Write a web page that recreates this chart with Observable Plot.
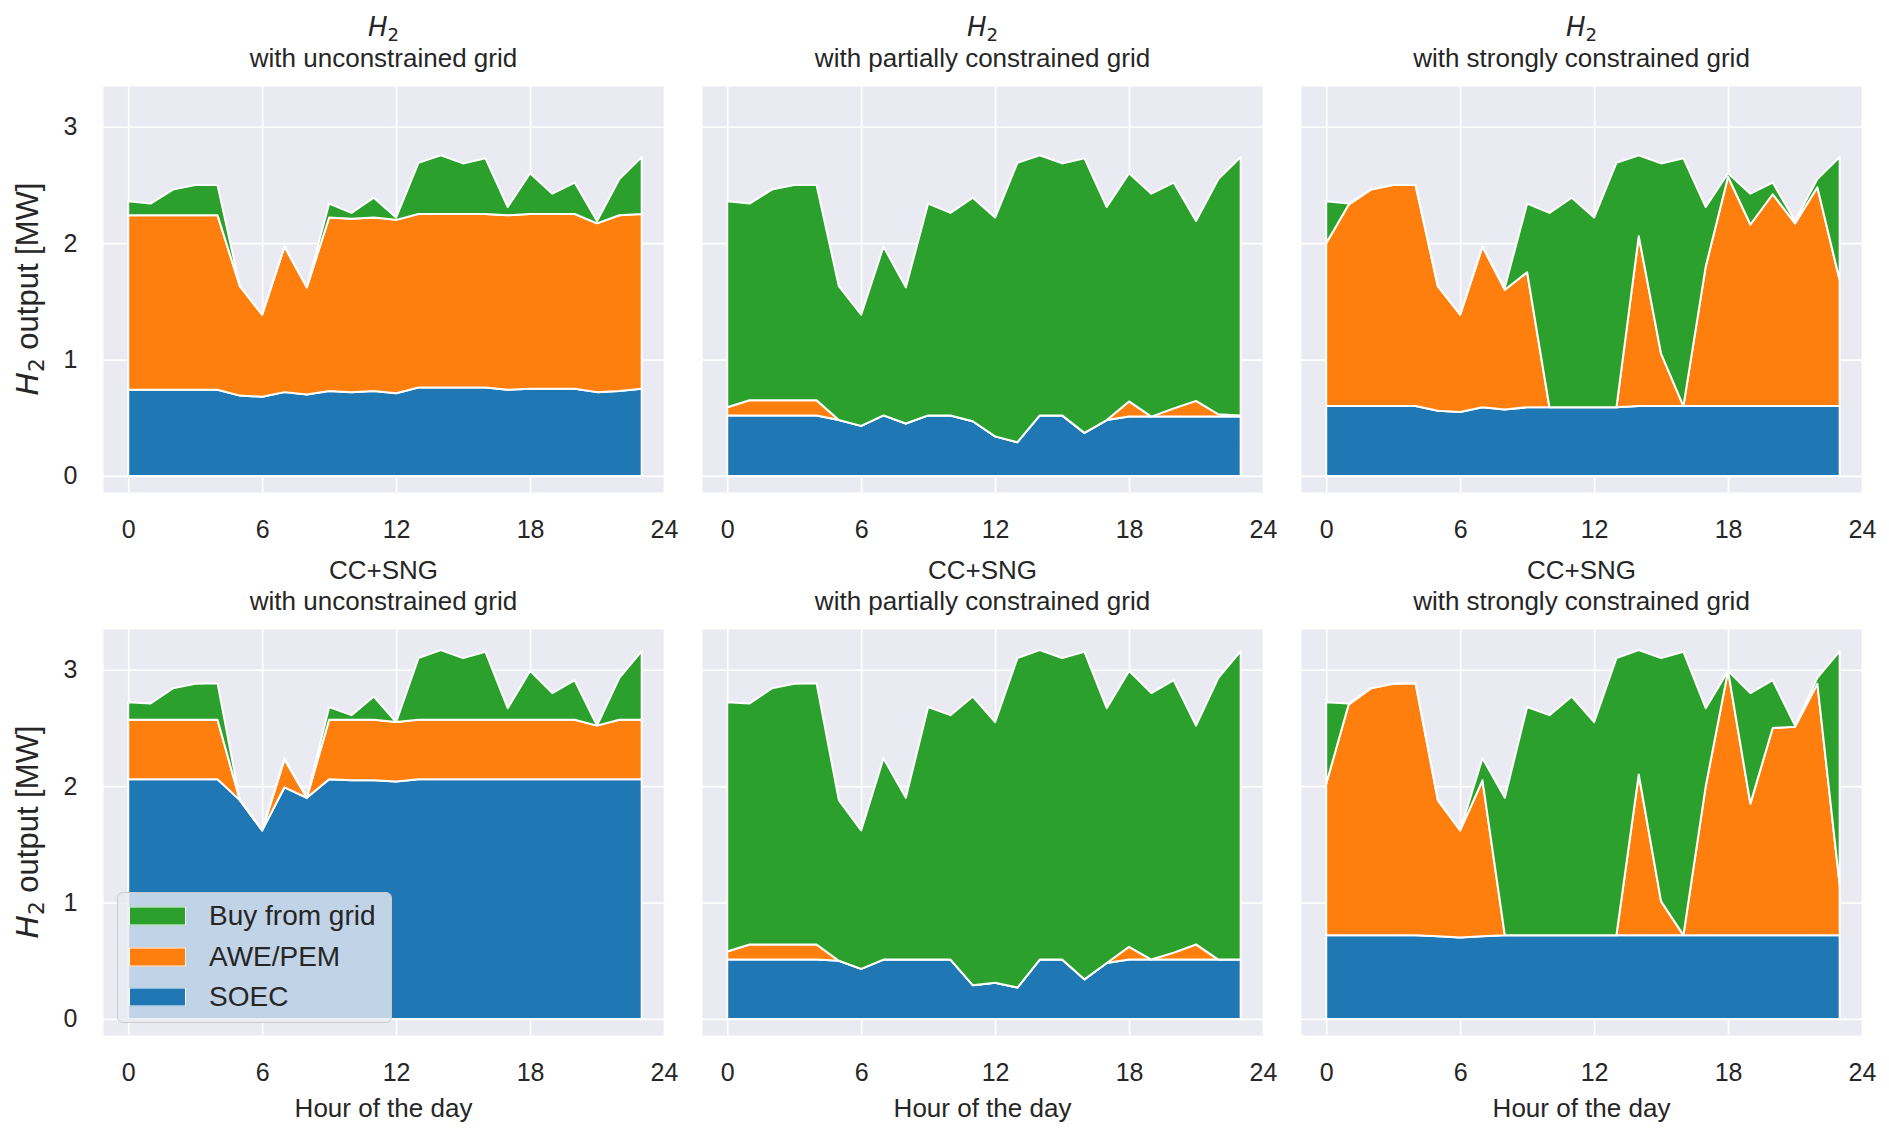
<!DOCTYPE html>
<html>
<head>
<meta charset="utf-8">
<script src="https://cdn.jsdelivr.net/npm/d3@7"></script>
<script src="https://cdn.jsdelivr.net/npm/@observablehq/plot@0.6"></script>
<style>
  body { margin: 0; background: #ffffff; }
  #fig { position: relative; width: 1889px; height: 1133px; font-family: "Liberation Sans", Arial, sans-serif; color: #262626; overflow: hidden; }
  .panel { position: absolute; }
  .panel svg { max-width: none !important; }
  .title { position: absolute; transform: translate(-50%, -50%); font-size: 26px; white-space: nowrap; line-height: 1; }
  .xlabel { position: absolute; transform: translate(-50%, -50%); font-size: 26px; white-space: nowrap; line-height: 1; }
  .ylabel { position: absolute; transform: translate(-50%, -50%) rotate(-90deg); font-size: 31px; white-space: nowrap; line-height: 1; }
  .m { font-family: "DejaVu Sans", sans-serif; font-style: italic; }
  .s { font-family: "DejaVu Sans", sans-serif; font-size: 0.7em; position: relative; top: 0.28em; }
  .legend { position: absolute; background: rgba(234,234,242,0.8); border: 1.5px solid #cccccc; border-radius: 6px; box-sizing: border-box; }
  .row { position: absolute; left: 0; height: 0; }
  .sw { position: absolute; width: 57px; height: 19px; box-sizing: border-box; border: 1.5px solid #ffffff; transform: translateY(-50%); }
  .lt { position: absolute; font-size: 28px; white-space: nowrap; transform: translateY(-50%); line-height: 1; }
</style>
</head>
<body>
<div id="fig"></div>
<script>
// ---------------- data ----------------
const hours = [0,1,2,3,4,5,6,7,8,9,10,11,12,13,14,15,16,17,18,19,20,21,22,23];
const seriesNames = ["SOEC", "AWE/PEM", "Buy from grid"];
const seriesColors = ["#1f77b4", "#ff7f0e", "#2ca02c"];
const xTicks = [0, 6, 12, 18, 24];
const yTicks = [0, 1, 2, 3];
const rowProducts = ["H2", "CC+SNG"];
const gridCases = ["with unconstrained grid", "with partially constrained grid", "with strongly constrained grid"];
const xLabel = "Hour of the day";
const yLabel = "output [MW]";

// H2 – unconstrained grid
const h2UnconSOEC = [0.74,0.74,0.74,0.74,0.74,0.69,0.68,0.72,0.70,0.73,0.72,0.73,0.71,0.76,0.76,0.76,0.76,0.74,0.75,0.75,0.75,0.72,0.73,0.75];
const h2UnconAWE  = [1.50,1.50,1.50,1.50,1.50,0.94,0.705,1.25,0.92,1.49,1.49,1.49,1.49,1.49,1.49,1.49,1.49,1.50,1.50,1.50,1.50,1.45,1.51,1.50];
const h2UnconBuy  = [0.12,0.10,0.22,0.26,0.26,0,0,0,0,0.12,0.05,0.17,0.02,0.44,0.505,0.435,0.48,0.07,0.35,0.175,0.27,0.02,0.31,0.49];

// H2 – partially constrained grid
const h2PartSOEC = [0.52,0.52,0.52,0.52,0.52,0.48,0.43,0.52,0.45,0.52,0.52,0.47,0.34,0.29,0.52,0.52,0.37,0.48,0.51,0.51,0.51,0.51,0.51,0.51];
const h2PartAWE  = [0.07,0.13,0.13,0.13,0.13,0,0,0,0,0,0,0,0,0,0,0,0,0,0.13,0,0.07,0.135,0.02,0.01];
const h2PartBuy  = [1.77,1.69,1.81,1.85,1.85,1.15,0.955,1.45,1.17,1.82,1.74,1.92,1.88,2.40,2.235,2.165,2.36,1.83,1.96,1.915,1.94,1.545,2.02,2.22];

// H2 – strongly constrained grid
const h2StrongSOEC = [0.60,0.60,0.60,0.60,0.60,0.56,0.55,0.59,0.57,0.59,0.59,0.59,0.59,0.59,0.60,0.60,0.60,0.60,0.60,0.60,0.60,0.60,0.60,0.60];
const h2StrongAWE  = [1.40,1.73,1.86,1.90,1.90,1.07,0.835,1.38,1.03,1.16,0,0,0,0,1.46,0.45,0,1.20,1.97,1.56,1.82,1.57,1.88,1.08];
const h2StrongBuy  = [0.36,0.01,0,0,0,0,0,0,0.02,0.59,1.67,1.80,1.63,2.10,0.695,1.635,2.13,0.51,0.03,0.265,0.10,0.02,0.07,1.06];

// CC+SNG – unconstrained grid
const ccUnconSOEC = [2.06,2.06,2.06,2.06,2.06,1.88,1.62,1.99,1.90,2.06,2.05,2.05,2.04,2.06,2.06,2.06,2.06,2.06,2.06,2.06,2.06,2.06,2.06,2.06];
const ccUnconAWE  = [0.51,0.51,0.51,0.51,0.51,0,0,0.24,0,0.51,0.52,0.52,0.51,0.51,0.51,0.51,0.51,0.51,0.51,0.51,0.51,0.46,0.51,0.51];
const ccUnconBuy  = [0.15,0.14,0.27,0.31,0.315,0,0,0.01,0,0.11,0.04,0.20,0,0.53,0.60,0.53,0.585,0.10,0.42,0.23,0.34,0,0.36,0.59];

// CC+SNG – partially constrained grid
const ccPartSOEC = [0.51,0.51,0.51,0.51,0.51,0.50,0.43,0.51,0.51,0.51,0.51,0.29,0.31,0.27,0.51,0.51,0.34,0.48,0.51,0.51,0.51,0.51,0.51,0.51];
const ccPartAWE  = [0.07,0.13,0.13,0.13,0.13,0,0,0,0,0,0,0,0,0,0,0,0,0,0.11,0,0.06,0.13,0,0];
const ccPartBuy  = [2.14,2.07,2.20,2.24,2.245,1.38,1.19,1.73,1.39,2.17,2.10,2.48,2.24,2.83,2.66,2.59,2.815,2.19,2.37,2.29,2.34,1.88,2.42,2.65];

// CC+SNG – strongly constrained grid
const ccStrongSOEC = [0.72,0.72,0.72,0.72,0.72,0.71,0.70,0.71,0.72,0.72,0.72,0.72,0.72,0.72,0.72,0.72,0.72,0.72,0.72,0.72,0.72,0.72,0.72,0.72];
const ccStrongAWE  = [1.30,1.98,2.12,2.16,2.165,1.17,0.92,1.34,0,0,0,0,0,0,1.38,0.29,0,1.28,2.27,1.13,1.78,1.79,2.16,0.43];
const ccStrongBuy  = [0.70,0.01,0,0,0,0,0,0.19,1.18,1.96,1.89,2.05,1.83,2.38,1.07,2.09,2.435,0.67,0,0.95,0.41,0.01,0.05,2.01];

const panelSeries = [
  [[h2UnconSOEC, h2UnconAWE, h2UnconBuy], [h2PartSOEC, h2PartAWE, h2PartBuy], [h2StrongSOEC, h2StrongAWE, h2StrongBuy]],
  [[ccUnconSOEC, ccUnconAWE, ccUnconBuy], [ccPartSOEC, ccPartAWE, ccPartBuy], [ccStrongSOEC, ccStrongAWE, ccStrongBuy]]
];

// ---------------- layout ----------------
const fig = document.getElementById("fig");
const plotW = 561, plotH = 406;
const colLeft = [103, 702, 1301];
const rowTop = [86, 629];
const FONT = "'Liberation Sans', Arial, sans-serif";

function makePanel(r, c) {
  const arrs = panelSeries[r][c];
  const data = [];
  seriesNames.forEach((name, k) => {
    hours.forEach((h, i) => data.push({hour: h, series: name, value: arrs[k][i]}));
  });
  const showY = c === 0;
  const ml = showY ? 110 : 0;
  const mr = 26, mb = 70;
  const marks = [
    Plot.frame({fill: "#EAEAF2", stroke: "none"}),
    Plot.gridX(xTicks, {stroke: "#ffffff", strokeOpacity: 1, strokeWidth: 1.7}),
    Plot.gridY(yTicks, {stroke: "#ffffff", strokeOpacity: 1, strokeWidth: 1.7}),
    Plot.areaY(data, {x: "hour", y: "value", z: "series", fill: "series", order: seriesNames,
                      stroke: "#ffffff", strokeWidth: 2, strokeLinejoin: "round"}),
    Plot.axisX(xTicks, {tickSize: 0, tickPadding: 28, fontSize: 25, label: null, fill: "#262626", tickFormat: d3.format("d")})
  ];
  if (showY) marks.push(Plot.axisY(yTicks, {tickSize: 0, tickPadding: 26, fontSize: 25, label: null, fill: "#262626", tickFormat: d3.format("d")}));
  const svg = Plot.plot({
    width: ml + plotW + mr,
    height: plotH + mb,
    marginLeft: ml, marginRight: mr, marginTop: 0, marginBottom: mb,
    x: {domain: [-1.13, 24.0], label: null},
    y: {domain: [-0.138, 3.35], label: null, axis: showY ? undefined : null},
    color: {domain: seriesNames, range: seriesColors},
    style: {fontFamily: FONT, fontSize: "25px", color: "#262626", background: "transparent", overflow: "visible", maxWidth: "none"},
    marks
  });
  const wrap = document.createElement("div");
  wrap.className = "panel";
  wrap.style.left = (colLeft[c] - ml) + "px";
  wrap.style.top = rowTop[r] + "px";
  wrap.style.width = (ml + plotW + mr) + "px";
  wrap.appendChild(svg);
  fig.appendChild(wrap);

  // title
  const cx = colLeft[c] + plotW / 2;
  const t1 = document.createElement("div");
  t1.className = "title";
  t1.style.left = cx + "px";
  t1.style.top = (rowTop[r] - 59) + "px";
  if (rowProducts[r] === "H2") t1.innerHTML = '<span class="m">H</span><span class="s">2</span>';
  else t1.textContent = rowProducts[r];
  fig.appendChild(t1);
  const t2 = document.createElement("div");
  t2.className = "title";
  t2.style.left = cx + "px";
  t2.style.top = (rowTop[r] - 28) + "px";
  t2.textContent = gridCases[c];
  fig.appendChild(t2);

  if (r === 1) {
    const xl = document.createElement("div");
    xl.className = "xlabel";
    xl.style.left = cx + "px";
    xl.style.top = "1108px";
    xl.textContent = xLabel;
    fig.appendChild(xl);
  }
  if (c === 0) {
    const yl = document.createElement("div");
    yl.className = "ylabel";
    yl.style.left = "27px";
    yl.style.top = (rowTop[r] + plotH / 2) + "px";
    yl.innerHTML = '<span class="m">H</span><span class="s">2</span> ' + yLabel;
    fig.appendChild(yl);
  }
}

for (let r = 0; r < 2; r++) for (let c = 0; c < 3; c++) makePanel(r, c);

// legend (bottom-left panel)
const legendOrder = [2, 1, 0];
const leg = document.createElement("div");
leg.className = "legend";
leg.style.left = "117px";
leg.style.top = "892px";
leg.style.width = "275px";
leg.style.height = "131px";
const rowY = [22.5, 64, 104];
legendOrder.forEach((k, j) => {
  const row = document.createElement("div");
  row.className = "row";
  row.style.top = rowY[j] + "px";
  const sw = document.createElement("div");
  sw.className = "sw";
  sw.style.left = "11px";
  sw.style.background = seriesColors[k];
  const lt = document.createElement("div");
  lt.className = "lt";
  lt.style.left = "91px";
  lt.textContent = seriesNames[k];
  row.appendChild(sw);
  row.appendChild(lt);
  leg.appendChild(row);
});
fig.appendChild(leg);
</script>
</body>
</html>
